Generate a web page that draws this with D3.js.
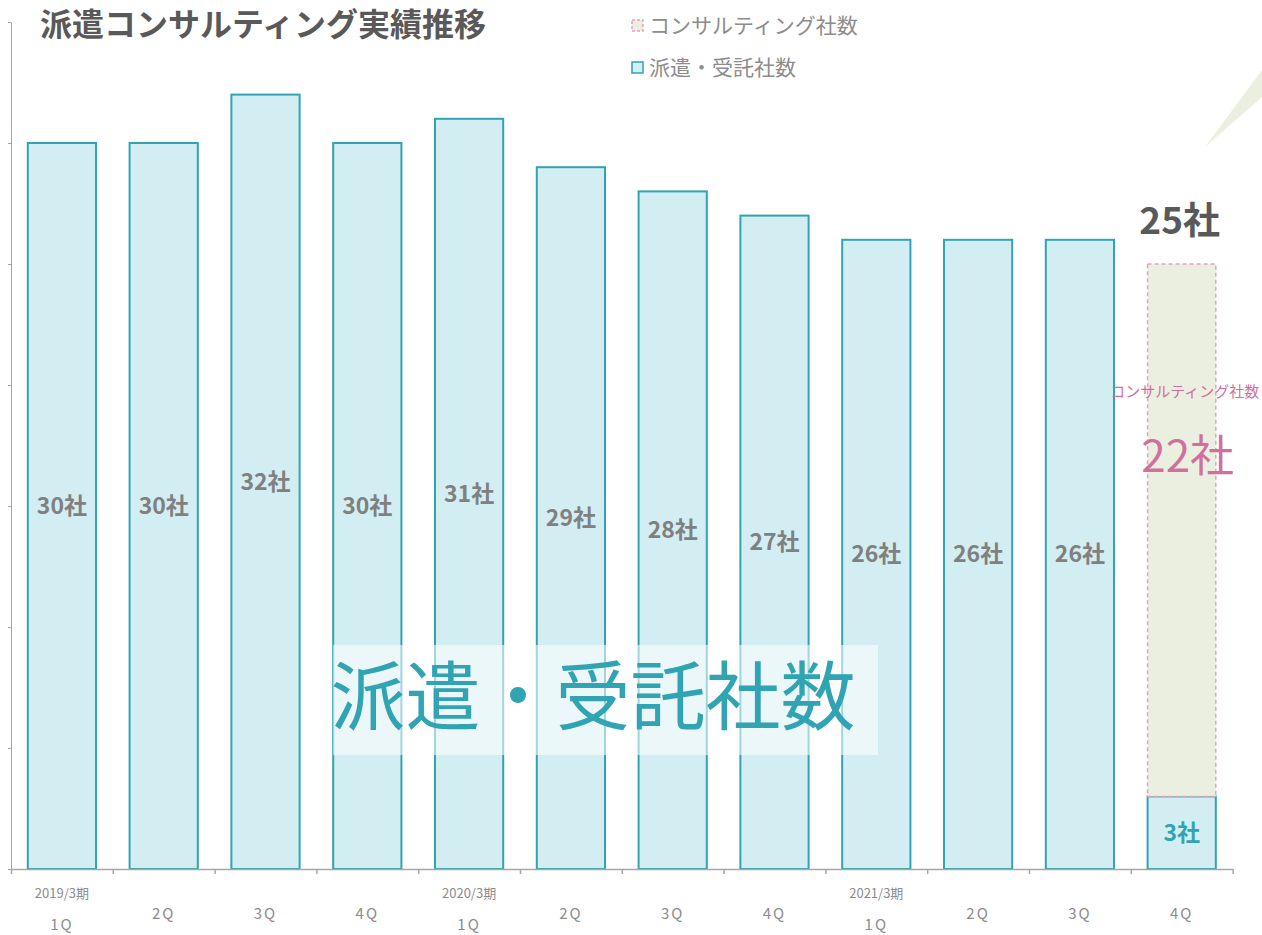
<!DOCTYPE html>
<html>
<head>
<meta charset="utf-8">
<script src="https://cdn.jsdelivr.net/npm/d3@7"></script>
<style>
  body { margin: 0; background: #fff; }
  text { font-family: "Noto Sans CJK JP", "Noto Sans", sans-serif; }
</style>
</head>
<body>
<div id="chart"></div>
<script>
// data
const quarters = ["1Q","2Q","3Q","4Q","1Q","2Q","3Q","4Q","1Q","2Q","3Q","4Q"];
const periods  = ["2019/3期","","","","2020/3期","","","","2021/3期","","",""];
const haken      = [30,30,32,30,31,29,28,27,26,26,26,3];
const consulting = [0,0,0,0,0,0,0,0,0,0,0,22];

const W = 1262, H = 935;
const teal = "#31a4b3", tealFill = "#d3eef2";
const pink = "#e3a1c4", olive = "#ebefdf";
const gray = "#808080", dark = "#595959", axisCol = "#a6a6a6";

const svg = d3.select("#chart").append("svg")
  .attr("width", W).attr("height", H);

// decoration top right
svg.append("polygon")
  .attr("points", "1262,70 1205,147 1262,97")
  .attr("fill", olive);

const idx = d3.range(haken.length);
const x = d3.scaleBand().domain(idx).range([11, 1232.6])
  .paddingInner(0.33).paddingOuter(0.165);
const xLin = d3.scaleLinear().domain([0, haken.length]).range([11, 1232.6]);
const y = d3.scaleLinear().domain([0, 35]).range([869, 22]);

// axes
const yAxis = d3.axisLeft(y).tickValues(d3.range(0, 36, 5)).tickSize(3).tickFormat("").tickSizeOuter(0);
const gy = svg.append("g").attr("transform", "translate(11,0)").call(yAxis);
gy.selectAll("path,line").attr("stroke", axisCol);

// bars
svg.selectAll(".haken").data(idx).join("rect")
  .attr("class", "haken")
  .attr("x", d => x(d)).attr("width", x.bandwidth())
  .attr("y", d => y(haken[d])).attr("height", d => y(0) - y(haken[d]))
  .attr("fill", tealFill).attr("stroke", teal).attr("stroke-width", 2);

svg.selectAll(".cons").data(idx.filter(d => consulting[d] > 0)).join("rect")
  .attr("class", "cons")
  .attr("x", d => x(d)).attr("width", x.bandwidth())
  .attr("y", d => y(haken[d] + consulting[d])).attr("height", d => y(haken[d]) - y(haken[d] + consulting[d]))
  .attr("fill", olive).attr("stroke", pink).attr("stroke-width", 1.5).attr("stroke-dasharray", "4,3");

const xAxis = d3.axisBottom(xLin).tickValues(d3.range(0, haken.length + 1)).tickSize(5).tickFormat("").tickSizeOuter(0);
const gx = svg.append("g").attr("transform", "translate(0,869)").call(xAxis);
gx.selectAll("path,line").attr("stroke", axisCol).attr("stroke-width", 1.5);

// bar labels
svg.selectAll(".hlab").data(idx).join("text")
  .attr("class", "hlab")
  .attr("x", d => x(d) + x.bandwidth() / 2)
  .attr("y", d => (y(haken[d]) + y(0)) / 2 + 8)
  .attr("text-anchor", "middle")
  .attr("font-size", 23).attr("font-weight", "bold")
  .attr("fill", d => consulting[d] > 0 ? teal : gray)
  .text(d => haken[d] + "社");

idx.filter(d => consulting[d] > 0).forEach(d => {
  const cx = x(d) + x.bandwidth() / 2;
  svg.append("text").attr("x", cx + 3).attr("y", 397)
    .attr("text-anchor", "middle").attr("font-size", 15).attr("fill", "#d070a0")
    .text("コンサルティング社数");
  svg.append("text").attr("x", cx + 6).attr("y", 472)
    .attr("text-anchor", "middle").attr("font-size", 44).attr("fill", "#d070a0")
    .text(consulting[d] + "社");
  svg.append("text").attr("x", cx - 2).attr("y", y(haken[d] + consulting[d]) - 30)
    .attr("text-anchor", "middle").attr("font-size", 37).attr("font-weight", "bold").attr("fill", dark)
    .text((haken[d] + consulting[d]) + "社");
});

// x labels
svg.selectAll(".per").data(idx).join("text")
  .attr("class", "per")
  .attr("x", d => x(d) + x.bandwidth() / 2).attr("y", 898)
  .attr("text-anchor", "middle").attr("font-size", 13).attr("fill", "#8c8c8c")
  .text(d => periods[d]);
svg.selectAll(".q").data(idx).join("text")
  .attr("class", "q")
  .attr("x", d => x(d) + x.bandwidth() / 2)
  .attr("y", d => periods[d] ? 930 : 919)
  .attr("text-anchor", "middle").attr("font-size", 15).attr("fill", "#8c8c8c")
  .attr("letter-spacing", 2)
  .text(d => quarters[d]);

// overlay label
svg.append("rect").attr("x", 333).attr("y", 645).attr("width", 545).attr("height", 110)
  .attr("fill", "#fff").attr("opacity", 0.55);
svg.append("text").attr("x", 593).attr("y", 724)
  .attr("text-anchor", "middle").attr("font-size", 75).attr("fill", teal)
  .text("派遣・受託社数");

// title
svg.append("text").attr("x", 40).attr("y", 36)
  .attr("font-size", 32).attr("font-weight", "bold").attr("fill", dark)
  .text("派遣コンサルティング実績推移");

// legend
const legend = [
  {name: "コンサルティング社数", fill: olive, stroke: pink, dash: "3,2"},
  {name: "派遣・受託社数", fill: tealFill, stroke: teal, dash: null}
];
const lg = svg.selectAll(".lg").data(legend).join("g")
  .attr("class", "lg")
  .attr("transform", (d, i) => `translate(632,${26 + i * 42})`);
lg.append("rect").attr("x", 0).attr("y", -6).attr("width", 11).attr("height", 11)
  .attr("fill", d => d.fill).attr("stroke", d => d.stroke).attr("stroke-width", 1.5)
  .attr("stroke-dasharray", d => d.dash);
lg.append("text").attr("x", 17).attr("y", 7)
  .attr("font-size", 21).attr("fill", "#8c8c8c")
  .text(d => d.name);
</script>
</body>
</html>
